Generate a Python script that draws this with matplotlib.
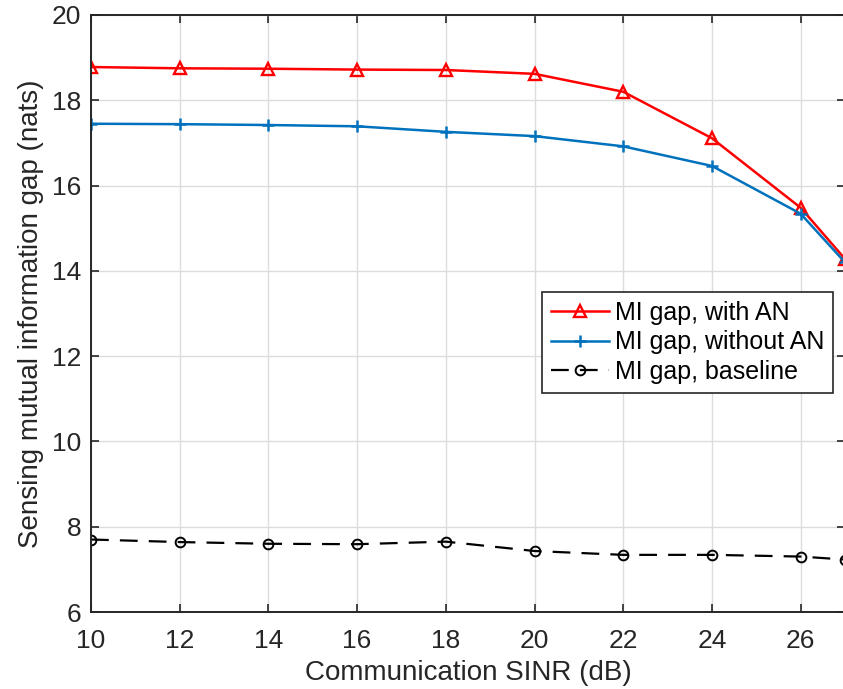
import matplotlib
matplotlib.use("Agg")
import matplotlib.pyplot as plt

# values
sinr_db = [10, 12, 14, 16, 18, 20, 22, 24, 26, 27]
gap_with_an = [18.78, 18.75, 18.74, 18.72, 18.71, 18.62, 18.20, 17.11, 15.48, 14.28]
gap_without_an = [17.45, 17.44, 17.42, 17.39, 17.26, 17.16, 16.92, 16.46, 15.34, 14.20]
gap_baseline = [7.70, 7.64, 7.60, 7.59, 7.65, 7.43, 7.34, 7.34, 7.30, 7.23]

series_labels = ["MI gap, with AN", "MI gap, without AN", "MI gap, baseline"]
x_ticks = [10, 12, 14, 16, 18, 20, 22, 24, 26]
y_ticks = [6, 8, 10, 12, 14, 16, 18, 20]

plt.rcParams["font.family"] = ["Liberation Sans", "DejaVu Sans"]
dark = "#262626"

fig = plt.figure(figsize=(8.43, 6.89), dpi=100)
ax = fig.add_axes([91 / 843, 77 / 689, 754 / 843, 597 / 689])

ax.plot(sinr_db, gap_with_an, color="#ff0000", lw=1.8, marker="^", ms=9,
        mfc="none", mew=1.7, label=series_labels[0])
ax.plot(sinr_db, gap_without_an, color="#0072bd", lw=1.8, marker="+", ms=9,
        mew=1.8, label=series_labels[1])
ax.plot(sinr_db, gap_baseline, color="black", lw=1.6, ls=(0, (8, 5)), marker="o",
        ms=7, mfc="none", mew=1.4, label=series_labels[2])

ax.set_xlim(10, 27)
ax.set_ylim(6, 20)
ax.set_xticks(x_ticks)
ax.set_yticks(y_ticks)
ax.grid(True, color="#dcdcdc", lw=1.0)
ax.set_axisbelow(True)

ax.tick_params(direction="in", top=True, right=True, length=6, width=1.2,
               colors=dark, labelsize=19)
ax.tick_params(axis="x", pad=12)
ax.tick_params(axis="y", pad=7)
for s in ax.spines.values():
    s.set_color(dark)
    s.set_linewidth(1.4)

ax.set_xlabel("Communication SINR (dB)", fontsize=20, color=dark, labelpad=5)
ax.set_ylabel("Sensing mutual information gap (nats)", fontsize=20, color=dark,
              labelpad=6)

leg = ax.legend(loc="upper right", bbox_to_anchor=(0.984, 0.536), fontsize=18,
                frameon=True, fancybox=False, edgecolor=dark, framealpha=1,
                handlelength=2.3, handletextpad=0.25, borderpad=0.35,
                labelspacing=0.22, borderaxespad=0)
leg.get_frame().set_linewidth(1.2)

fig.savefig("out.png", dpi=100)
